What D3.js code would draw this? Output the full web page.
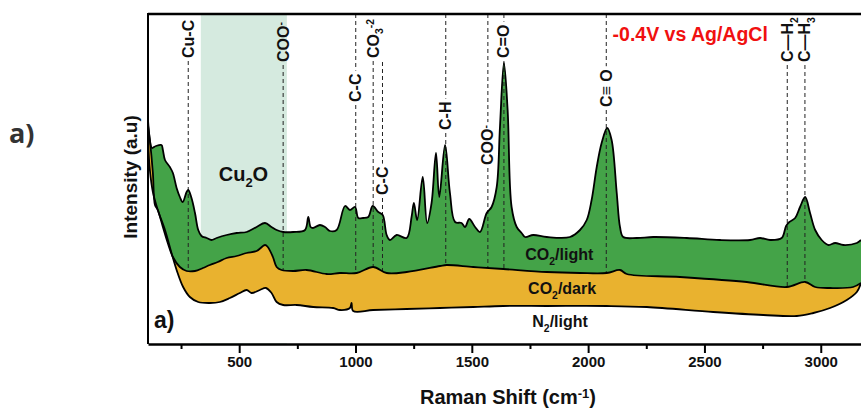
<!DOCTYPE html>
<html>
<head>
<meta charset="utf-8">
<script src="https://cdn.jsdelivr.net/npm/d3@7"></script>
<style>
body { margin: 0; background: #fff; }
text { font-family: 'Liberation Sans', Arial, Helvetica, sans-serif; font-weight: bold; }
</style>
</head>
<body>
<div id="chart"></div>
<script>
// Spectra: Raman shift (cm-1) and intensity (a.u.)
const lightShift = [108, 116, 125, 142, 166, 172, 181, 202, 215, 231, 245, 257, 274, 281, 295, 310, 324, 338, 360, 381, 403, 446, 489, 532, 575, 611, 639, 661, 689, 732, 783, 797, 807, 817, 847, 869, 890, 919, 955, 976, 998, 1012, 1033, 1055, 1074, 1098, 1117, 1134, 1148, 1177, 1220, 1241, 1251, 1265, 1289, 1308, 1327, 1346, 1360, 1385, 1406, 1428, 1456, 1471, 1489, 1514, 1535, 1564, 1585, 1607, 1621, 1638, 1654, 1671, 1693, 1714, 1729, 1764, 1822, 1922, 1965, 1994, 2015, 2037, 2058, 2082, 2101, 2123, 2137, 2151, 2209, 2280, 2424, 2567, 2696, 2739, 2782, 2832, 2851, 2865, 2890, 2911, 2933, 2954, 2976, 3004, 3033, 3062, 3097, 3155, 3173]
const lightInt = [224, 204, 196, 198, 199, 194, 184, 177, 171, 156, 147, 142, 152, 154, 146, 131, 114, 108, 106, 104, 106, 109, 111, 112, 117, 121, 117, 114, 112, 112, 114, 127, 117, 116, 119, 117, 113, 114, 138, 134, 137, 126, 126, 127, 138, 132, 129, 109, 104, 109, 106, 127, 141, 124, 167, 121, 141, 191, 147, 199, 151, 122, 121, 117, 125, 117, 112, 131, 137, 157, 217, 281, 234, 137, 117, 111, 107, 109, 107, 107, 114, 124, 144, 177, 201, 216, 204, 151, 117, 107, 106, 107, 106, 104, 104, 106, 104, 106, 118, 122, 126, 137, 147, 131, 114, 104, 99, 101, 99, 101, 104]

const darkShift = [108, 116, 129, 138, 150, 172, 193, 215, 245, 274, 310, 344, 374, 408, 446, 489, 532, 575, 611, 623, 645, 661, 682, 732, 790, 876, 933, 1005, 1076, 1134, 1220, 1363, 1392, 1506, 1635, 1822, 1965, 2080, 2137, 2166, 2395, 2682, 2854, 2933, 2976, 3041, 3139, 3173]
const darkInt = [219, 204, 171, 139, 134, 117, 101, 87, 77, 73, 73, 76, 79, 82, 86, 88, 91, 93, 99, 97, 87, 77, 74, 73, 74, 70, 71, 71, 77, 71, 72, 78, 79, 77, 75, 72, 71, 71, 74, 70, 67, 62, 57, 62, 57, 56, 57, 61]

const n2Shift = [108, 116, 129, 150, 181, 209, 231, 259, 288, 324, 374, 417, 460, 503, 532, 553, 589, 615, 639, 661, 689, 747, 818, 904, 933, 976, 983, 990, 1076, 1220, 1363, 1506, 1635, 1822, 2080, 2252, 2538, 2753, 2897, 2968, 3040, 3112, 3155, 3173]
const n2Int = [204, 174, 152, 134, 114, 91, 74, 57, 47, 42, 41, 42, 46, 51, 54, 51, 54, 56, 51, 42, 39, 39, 37, 36, 34, 36, 41, 33, 34, 35, 36, 37, 38, 38, 38, 37, 32, 29, 28, 31, 36, 44, 52, 61]

// Assigned bands
const peakShifts = [281, 689, 1001, 1076, 1116, 1388, 1569, 1638, 2078, 2856, 2932]
const peakLabels = [
	[['Cu-C', 0]],
	[['COO', 0], ['-', -1]],
	[['C-C', 0]],
	[['CO', 0], ['3', 1], ['-2', -1]],
	[['C-C', 0]],
	[['C-H', 0]],
	[['COO', 0], ['-', -1]],
	[['C=O', 0]],
	[['C\u2261 O', 0]],
	[['C\u2014H', 0], ['2', 1]],
	[['C\u2014H', 0], ['3', 1]]
]

// Cu2O region
const bandRange = [335, 705]

// Axis ticks
const majorTicks = [500, 1000, 1500, 2000, 2500, 3000]
const minorTicks = [250, 750, 1250, 1750, 2250, 2750]

// Chart dimensions
const chartWidth = 861
const chartHeight = 408
const plotLeft = 148
const plotTop = 14
const plotBottom = 344

let scaleX = d3.scaleLinear()
	.domain([108, 3173])
	.range([plotLeft, chartWidth])
let scaleY = d3.scaleLinear()
	.domain([0, 330])
	.range([plotBottom, plotTop])

// Colors
const green = '#44a348'
const gold = '#e9b22f'
const bandColor = '#d5eadf'

let svg = d3.select('#chart')
	.append('svg')
	.attr('width', chartWidth)
	.attr('height', chartHeight)

// text with sub / superscripts, part = [string, shift] (1 = sub, -1 = sup)
function richText(sel, parts, size) {
	let shift = 0
	parts.forEach((p) => {
		let target = p[1]
		let small = target != 0
		sel.append('tspan')
			.attr('dy', (target - shift) * size * 0.3 + 'px')
			.style('font-size', (small ? size * 0.65 : size) + 'px')
			.text(p[0])
		shift = target
	})
}

// Cu2O band
svg.append('rect')
	.attr('x', scaleX(bandRange[0]))
	.attr('y', plotTop)
	.attr('width', scaleX(bandRange[1]) - scaleX(bandRange[0]))
	.attr('height', plotBottom - plotTop)
	.attr('fill', bandColor)

let toPoints = (xs, ys) => xs.map((x, i) => [scaleX(x), scaleY(ys[i])])
let lightPts = toPoints(lightShift, lightInt)
let darkPts = toPoints(darkShift, darkInt)
let n2Pts = toPoints(n2Shift, n2Int)
let line = d3.line().curve(d3.curveCatmullRom.alpha(0.5))

// closed region between an upper and a lower spectrum
function between(upper, lower) {
	return line(upper) + 'L' + line(lower.slice().reverse()).slice(1) + 'Z'
}
// flat floor just above the axis line
let floor = (pts) => [[pts[0][0], plotBottom - 1], [pts[pts.length - 1][0], plotBottom - 1]]

// Fills between the spectra (N2 area is white so the band stops at it)
svg.append('path')
	.attr('d', between(lightPts, darkPts))
	.attr('fill', green)
svg.append('path')
	.attr('d', between(darkPts, n2Pts))
	.attr('fill', gold)
svg.append('path')
	.attr('d', line(n2Pts) + 'L' + floor(n2Pts).reverse().map((p) => p.join(',')).join('L') + 'Z')
	.attr('fill', '#fff')

// Dashed band markers and labels
function darkAt(v) {
	let i = d3.bisector((d) => d).left(darkShift, v)
	i = Math.max(1, Math.min(i, darkShift.length - 1))
	let t = (v - darkShift[i - 1]) / (darkShift[i] - darkShift[i - 1])
	return darkInt[i - 1] + t * (darkInt[i] - darkInt[i - 1])
}
// where each label starts (px from top) and where the dash above it begins
const labelBase = [58, 62, 102, 58, 195, 130, 165, 58, 107, 62, 62]
const dashTop = [null, null, 14, null, 62, 14, 14, 14, 14, null, null]
const labelSize = 16

peakShifts.forEach((v, i) => {
	let x = scaleX(v)
	let t = svg.append('text')
		.attr('transform', 'translate(' + (x + 5.5) + ',' + labelBase[i] + ') rotate(-90)')
		.style('font-size', labelSize + 'px')
		.attr('fill', '#111')
	richText(t, peakLabels[i], labelSize)
	let len = t.node().getComputedTextLength()
	let segs = [[labelBase[i] + 3, scaleY(darkAt(v))]]
	if (dashTop[i] != null) {
		segs.push([dashTop[i], labelBase[i] - len - 3])
	}
	segs.forEach((s) => {
		svg.append('line')
			.attr('x1', x).attr('x2', x)
			.attr('y1', s[0]).attr('y2', s[1])
			.style('stroke', '#222')
			.style('stroke-width', 1)
			.style('stroke-dasharray', '4,3')
	})
})

// Spectrum outlines
;[lightPts, darkPts, n2Pts].forEach((pts) => {
	svg.append('path')
		.attr('d', line(pts))
		.attr('fill', 'none')
		.style('stroke', '#000')
		.style('stroke-width', 1.8)
		.style('stroke-linejoin', 'round')
})

// Frame
svg.append('line')
	.attr('x1', plotLeft).attr('x2', chartWidth)
	.attr('y1', plotTop).attr('y2', plotTop)
	.style('stroke', '#000').style('stroke-width', 2.5)
svg.append('line')
	.attr('x1', plotLeft).attr('x2', plotLeft)
	.attr('y1', plotTop - 1).attr('y2', plotBottom)
	.style('stroke', '#000').style('stroke-width', 2)

// X axis
let axis = svg.append('g')
	.attr('transform', 'translate(0,' + plotBottom + ')')
	.call(d3.axisBottom(scaleX).tickValues(majorTicks).tickFormat(d3.format('d'))
		.tickSize(9).tickSizeOuter(0).tickPadding(3))
axis.select('.domain').style('stroke-width', 2.5)
axis.selectAll('.tick line').style('stroke-width', 2)
axis.selectAll('.tick text')
	.style('font-size', '15px')
	.style('font-family', "'Liberation Sans', Arial, sans-serif")
	.style('font-weight', 'bold')
	.attr('fill', '#111')
let minor = svg.append('g')
	.attr('transform', 'translate(0,' + plotBottom + ')')
	.call(d3.axisBottom(scaleX).tickValues(minorTicks).tickSize(5).tickFormat(''))
minor.select('.domain').remove()
minor.selectAll('.tick line').style('stroke-width', 2)

// Axis titles
let xTitle = svg.append('text')
	.attr('x', 508)
	.attr('y', 404)
	.attr('text-anchor', 'middle')
	.style('font-size', '20px')
	.attr('fill', '#111')
richText(xTitle, [['Raman Shift (cm', 0], ['-1', -1], [')', 0]], 20)

svg.append('text')
	.attr('transform', 'translate(137,177) rotate(-90)')
	.attr('text-anchor', 'middle')
	.style('font-size', '19px')
	.attr('fill', '#111')
	.text('Intensity (a.u)')

// Panel marks
svg.append('text')
	.attr('x', 9)
	.attr('y', 143)
	.style('font-family', "'Open Sans', 'Noto Sans', sans-serif")
	.style('font-size', '27px')
	.attr('fill', '#333')
	.text('a)')
svg.append('text')
	.attr('x', 154)
	.attr('y', 328)
	.style('font-size', '23px')
	.attr('fill', '#111')
	.text('a)')

// Condition label
svg.append('text')
	.attr('x', scaleX(2105))
	.attr('y', 41)
	.style('font-size', '19.5px')
	.attr('fill', '#f01010')
	.text('-0.4V vs Ag/AgCl')

// Band label
let cu2o = svg.append('text')
	.attr('x', scaleX(412))
	.attr('y', 181)
	.style('font-size', '20px')
	.attr('fill', '#111')
richText(cu2o, [['Cu', 0], ['2', 1], ['O', 0]], 20)

// Series labels
const seriesLabels = [
	[['CO', 0], ['2', 1], ['/light', 0]],
	[['CO', 0], ['2', 1], ['/dark', 0]],
	[['N', 0], ['2', 1], ['/light', 0]]
]
const seriesAt = [[1730, 84], [1742, 50], [1760, 17]]
seriesLabels.forEach((parts, i) => {
	let t = svg.append('text')
		.attr('x', scaleX(seriesAt[i][0]))
		.attr('y', scaleY(seriesAt[i][1]))
		.style('font-size', '16px')
		.attr('fill', '#111')
	richText(t, parts, 16)
})
</script>
</body>
</html>
